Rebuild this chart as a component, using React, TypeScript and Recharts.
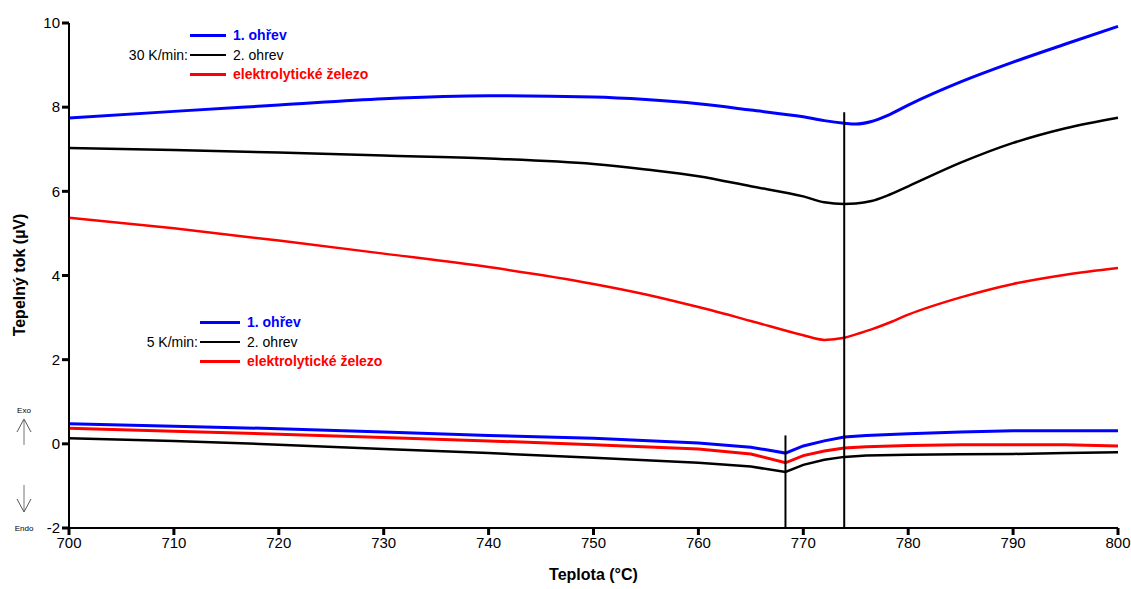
import React from 'react';
import {
  LineChart,
  Line,
  XAxis,
  YAxis,
  ReferenceLine,
} from 'recharts';

// 30 K/min measurements
const temps30 = [700, 710, 720, 730, 740, 750, 755, 760, 765, 770, 772, 773.9, 775, 776.5, 778, 780, 785, 790, 795, 800];
const heat1_30 = [7.74, 7.9, 8.05, 8.2, 8.27, 8.24, 8.18, 8.08, 7.93, 7.77, 7.68, 7.62, 7.6, 7.66, 7.8, 8.05, 8.6, 9.07, 9.5, 9.92];
const heat2_30 = [7.03, 6.98, 6.92, 6.85, 6.78, 6.65, 6.52, 6.36, 6.12, 5.88, 5.74, 5.7, 5.71, 5.77, 5.9, 6.12, 6.68, 7.15, 7.5, 7.75];
const iron_30 = [5.37, 5.12, 4.83, 4.52, 4.2, 3.8, 3.55, 3.25, 2.92, 2.58, 2.47, 2.52, 2.6, 2.72, 2.86, 3.07, 3.48, 3.8, 4.02, 4.18];

// 5 K/min measurements
const temps5 = [700, 710, 720, 730, 740, 750, 760, 765, 768.3, 770, 772, 773.9, 776, 780, 785, 790, 795, 800];
const heat1_5 = [0.48, 0.42, 0.36, 0.28, 0.2, 0.13, 0.02, -0.08, -0.22, -0.05, 0.07, 0.16, 0.2, 0.24, 0.28, 0.31, 0.31, 0.31];
const heat2_5 = [0.13, 0.07, -0.02, -0.12, -0.22, -0.33, -0.45, -0.54, -0.67, -0.5, -0.38, -0.31, -0.28, -0.26, -0.25, -0.24, -0.22, -0.2];
const iron_5 = [0.37, 0.3, 0.23, 0.15, 0.07, -0.02, -0.12, -0.24, -0.45, -0.28, -0.17, -0.1, -0.07, -0.04, -0.02, -0.02, -0.02, -0.05];

const xTicks = [700, 710, 720, 730, 740, 750, 760, 770, 780, 790, 800];
const yTicks = [-2, 0, 2, 4, 6, 8, 10];

// transition markers: [temperature, top of line]
const markerLow = [768.3, 0.2];
const markerHigh = [773.9, 7.88];

const legendLabels = ['1. ohřev', '2. ohrev', 'elektrolytické železo'];
const legendColors = ['#0000ff', '#000000', '#ff0000'];

const toPoints = (t: number[], v: number[]) => t.map((x, i) => ({ t: x, v: v[i] }));

const font = '"Liberation Sans", Arial, sans-serif';
const TICK = 7;
// tick length in data units (plot is ~1049 px for 100 °C, ~505 px for 12 µV)
const xTickLen = TICK * 12 / 505;
const yTickLen = TICK * 100 / 1049;

function LegendBlock({ left, top, rate, lineW }: { left: number; top: number; rate: string; lineW: number }) {
  return (
    <div style={{ position: 'absolute', left, top, fontFamily: font, fontSize: 14 }}>
      {legendLabels.map((label, i) => (
        <div key={label} style={{ position: 'absolute', top: i * 19.5, left: 0, display: 'flex', alignItems: 'center', height: 16, whiteSpace: 'nowrap' }}>
          {i === 1 && (
            <span style={{ position: 'absolute', right: '100%', marginRight: 2, color: '#000' }}>{rate}</span>
          )}
          <span style={{ display: 'inline-block', width: lineW, height: i === 1 ? 2 : 3, background: legendColors[i], marginRight: 7 }} />
          <span style={{ color: legendColors[i], fontWeight: i === 1 ? 'normal' : 'bold' }}>{label}</span>
        </div>
      ))}
    </div>
  );
}

export default function App() {
  return (
    <div style={{ position: 'absolute', left: 0, top: 0, width: 1131, height: 589, background: '#fff' }}>
      <LineChart width={1131} height={589} margin={{ top: 23, right: 13, bottom: 31, left: 39 }}>
        <XAxis
          type="number"
          dataKey="t"
          domain={[700, 800]}
          ticks={xTicks}
          allowDuplicatedCategory={false}
          axisLine={{ stroke: '#000', strokeWidth: 2 }}
          tickLine={false}
          tickSize={TICK}
          tick={{ fill: '#000', fontSize: 15, fontFamily: font }}
          height={30}
          label={{ value: 'Teplota (°C)', position: 'insideBottom', offset: -22, style: { fontSize: 16, fontWeight: 'bold', fill: '#000', fontFamily: font } }}
        />
        <YAxis
          type="number"
          dataKey="v"
          domain={[-2, 10]}
          ticks={yTicks}
          axisLine={{ stroke: '#000', strokeWidth: 2 }}
          tickLine={false}
          tickSize={TICK}
          tick={{ fill: '#000', fontSize: 15, fontFamily: font }}
          width={30}
        />
        {xTicks.map((t) => (
          <ReferenceLine
            key={'xt' + t}
            segment={[{ x: t, y: -2 }, { x: t, y: -2 - xTickLen }]}
            stroke="#000"
            strokeWidth={3}
            ifOverflow="visible"
          />
        ))}
        {yTicks.map((v) => (
          <ReferenceLine
            key={'yt' + v}
            segment={[{ x: 700, y: v }, { x: 700 - yTickLen, y: v }]}
            stroke="#000"
            strokeWidth={3}
            ifOverflow="visible"
          />
        ))}
        <Line data={toPoints(temps30, heat1_30)} dataKey="v" type="monotone" stroke="#0000ff" strokeWidth={3} dot={false} isAnimationActive={false} />
        <Line data={toPoints(temps30, heat2_30)} dataKey="v" type="monotone" stroke="#000" strokeWidth={2.5} dot={false} isAnimationActive={false} />
        <Line data={toPoints(temps30, iron_30)} dataKey="v" type="monotone" stroke="#ff0000" strokeWidth={2.5} dot={false} isAnimationActive={false} />
        <Line data={toPoints(temps5, heat1_5)} dataKey="v" type="linear" stroke="#0000ff" strokeWidth={3} dot={false} isAnimationActive={false} />
        <Line data={toPoints(temps5, iron_5)} dataKey="v" type="linear" stroke="#ff0000" strokeWidth={3} dot={false} isAnimationActive={false} />
        <Line data={toPoints(temps5, heat2_5)} dataKey="v" type="linear" stroke="#000" strokeWidth={2.5} dot={false} isAnimationActive={false} />
        <ReferenceLine
          segment={[{ x: markerLow[0], y: markerLow[1] }, { x: markerLow[0], y: -2 }]}
          stroke="#000"
          strokeWidth={2}
        />
        <ReferenceLine
          segment={[{ x: markerHigh[0], y: markerHigh[1] }, { x: markerHigh[0], y: -2 }]}
          stroke="#000"
          strokeWidth={2}
        />
      </LineChart>

      {/* y axis title */}
      <div
        style={{
          position: 'absolute',
          left: 20,
          top: 275,
          transform: 'translate(-50%, -50%) rotate(-90deg)',
          fontFamily: font,
          fontSize: 16,
          fontWeight: 'bold',
          whiteSpace: 'nowrap',
        }}
      >
        Tepelný tok (µV)
      </div>

      <LegendBlock left={190} top={27} rate="30 K/min:" lineW={36} />
      <LegendBlock left={200} top={314} rate="5 K/min:" lineW={40} />

      {/* exo / endo marker */}
      <svg style={{ position: 'absolute', left: 0, top: 0 }} width={60} height={589}>
        <text x={24} y={413} fontSize={8} fontFamily={font} textAnchor="middle">Exo</text>
        <line x1={24} y1={420} x2={24} y2={445} stroke="#777" strokeWidth={1} />
        <polyline points="17,432 24,419 31,432" fill="none" stroke="#555" strokeWidth={1} />
        <line x1={24} y1={485} x2={24} y2={511} stroke="#777" strokeWidth={1} />
        <polyline points="17,499 24,512 31,499" fill="none" stroke="#555" strokeWidth={1} />
        <text x={24} y={531} fontSize={8} fontFamily={font} textAnchor="middle">Endo</text>
      </svg>
    </div>
  );
}
